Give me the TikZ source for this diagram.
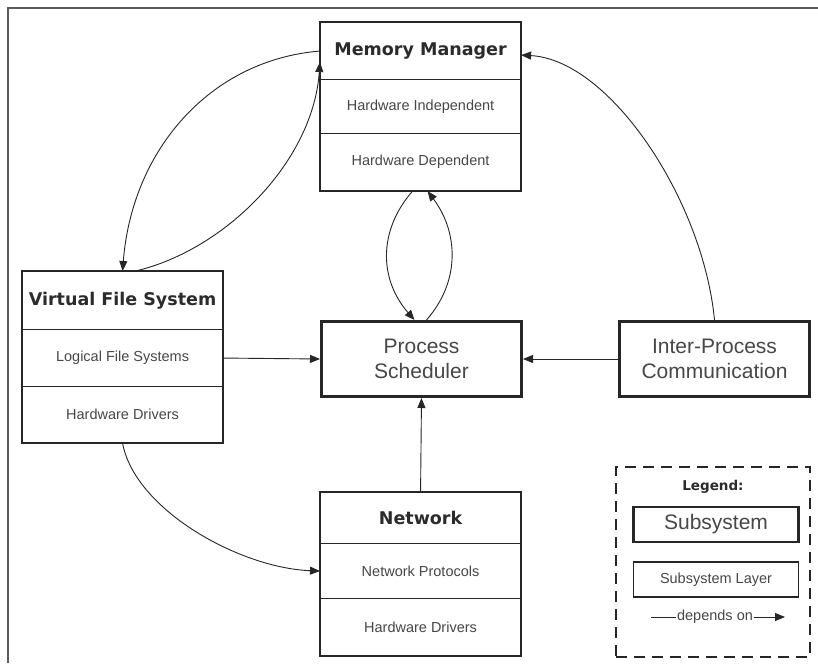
\documentclass[tikz,border=0pt]{standalone}
\usepackage{fontspec}
\setmainfont{Liberation Sans}
\newfontfamily\titlefont{DejaVu Sans}
\usetikzlibrary{arrows.meta}
\definecolor{linec}{HTML}{262626}
\definecolor{textc}{HTML}{474747}
\definecolor{titlec}{HTML}{2B2B2B}
\definecolor{framec}{HTML}{5A5A5A}
\begin{document}
\begin{tikzpicture}[x=1pt,y=-1pt,
  layer/.style={draw=linec, line width=1.1pt, minimum width=200pt, inner sep=0pt,
    anchor=north west, text=textc, font=\fontsize{14.5}{17}\selectfont},
  sectitle/.style={layer, text=titlec, font=\titlefont\bfseries\fontsize{17.5}{20}\selectfont},
  outline/.style={draw=linec, line width=2.6pt},
  subsys/.style={draw=linec, line width=3pt, inner sep=0pt, anchor=north west, align=center,
    text=textc, font=\fontsize{21}{25}\selectfont},
  dep/.style={-{Triangle[length=10pt,width=8pt]}, line width=0.9pt, draw=linec},
  legendbox/.style={draw=linec, line width=2.4pt, dash pattern=on 11pt off 7pt,
    minimum width=194pt, minimum height=190pt, anchor=north west, inner sep=0pt}
]
\useasboundingbox (0,0) rectangle (818,663);
\fill[white] (0,0) rectangle (818,663);
% page frame (top and left edges)
\draw[framec, line width=1.8pt] (8,663) -- (8,8) -- (818,8);

% Memory Manager
\node[sectitle, minimum height=57pt] (mmT) at (320,22) {Memory Manager};
\node[layer, minimum height=54pt] (mmA) at (320,79) {Hardware Independent};
\node[layer, minimum height=57pt] (mmB) at (320,133) {Hardware Dependent};
\draw[outline] (mmT.north west) rectangle (mmB.south east);

% Virtual File System
\node[sectitle, minimum height=58pt] (vfsT) at (22,271) {Virtual File System};
\node[layer, minimum height=57pt] (vfsA) at (22,329) {Logical File Systems};
\node[layer, minimum height=56pt] (vfsB) at (22,386) {Hardware Drivers};
\draw[outline] (vfsT.north west) rectangle (vfsB.south east);

% Network
\node[sectitle, minimum height=51pt] (netT) at (320,492) {Network};
\node[layer, minimum height=55pt] (netA) at (320,543) {Network Protocols};
\node[layer, minimum height=57pt] (netB) at (320,598) {Hardware Drivers};
\draw[outline] (netT.north west) rectangle (netB.south east);

% single-layer subsystems
\node[subsys, minimum width=200pt, minimum height=75pt] (ps) at (320,320) {Process\\Scheduler};
\node[subsys, minimum width=190pt, minimum height=75pt] (ipc) at (618,320) {Inter-Process\\Communication};

% dependencies
\draw[dep] (vfsA.east) -- (ps.west);
\draw[dep] (ipc.west) -- (ps.east);
\draw[dep] (netT.north) -- (ps.south);
\draw[dep] ([xshift=-8pt]mmB.south) .. controls +(-35,40) and +(-35,-40) .. ([xshift=-7pt]ps.north);
\draw[dep] ([xshift=5pt]ps.north) .. controls +(35,-40) and +(30,40) .. ([xshift=7pt]mmB.south);
\draw[dep] (mmT.west) .. controls (210,60) and (132,150) .. (vfsT.north);
\draw[dep] ([xshift=13pt]vfsT.north) .. controls (225,250) and (313,162) .. ([yshift=-11pt]mmT.west);
\draw[dep] (ipc.north) .. controls (703,200) and (610,60) .. ([yshift=-4pt]mmT.east);
\draw[dep] (vfsB.south) .. controls (135,510) and (240,568) .. (netA.west);

% legend
\node[legendbox] (leg) at (615,466) {};
\node[text=titlec, font=\titlefont\bfseries\fontsize{13.5}{16}\selectfont] (legT) at (713,487) {Legend:};
\node[draw=linec, line width=2.6pt, minimum width=165pt, minimum height=35pt, inner sep=0pt,
  text=textc, font=\fontsize{21}{25}\selectfont] (legS) at (716,524.5) {Subsystem};
\node[draw=linec, line width=1.1pt, minimum width=165pt, minimum height=35pt, inner sep=0pt,
  text=textc, font=\fontsize{14.5}{17}\selectfont] (legL) at (716,579.5) {Subsystem Layer};
\node[text=textc, inner sep=1pt, font=\fontsize{14.5}{17}\selectfont] (legD) at (715,617) {depends on};
\coordinate (legDL) at (651,617);
\coordinate (legDR) at (785,617);
\draw[line width=0.9pt, draw=linec] (legDL) -- (legD.west);
\draw[dep] (legD.east) -- (legDR);
\end{tikzpicture}
\end{document}
